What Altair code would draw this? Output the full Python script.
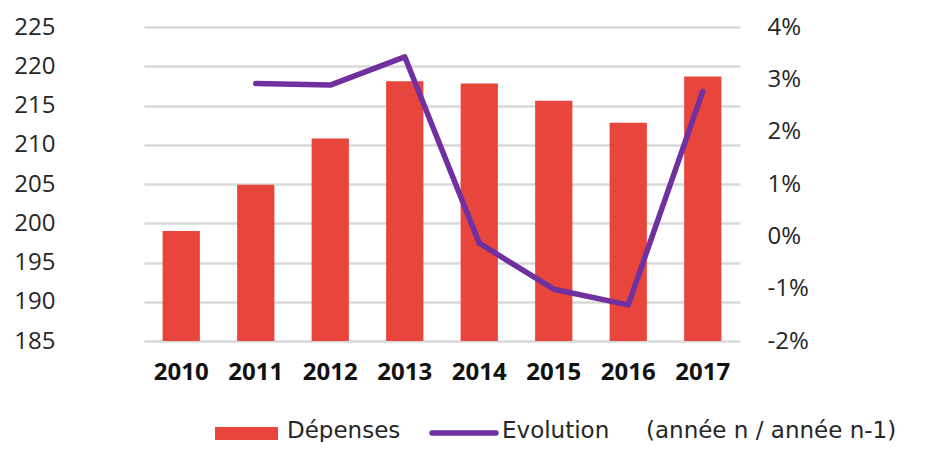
import altair as alt
import pandas as pd

years = ["2010", "2011", "2012", "2013", "2014", "2015", "2016", "2017"]
depenses = [199.0, 204.9, 210.8, 218.1, 217.8, 215.6, 212.8, 218.7]
evolution = [None, 2.92, 2.89, 3.43, -0.13, -1.01, -1.31, 2.77]
left_ticks = [185, 190, 195, 200, 205, 210, 215, 220, 225]
right_ticks = [-2, -1, 0, 1, 2, 3, 4]

df = pd.DataFrame({"annee": years, "depenses": depenses, "evolution": evolution})

FONT = "Open Sans"
LEG_FONT = "DejaVu Sans"
TXT = "#262626"
RED = "#e8453c"
PURPLE = "#7030a0"

xenc = alt.X("annee:N", sort=years, title=None,
             scale=alt.Scale(paddingInner=0.5, paddingOuter=0.25),
             axis=alt.Axis(labelAngle=0, labelFont=FONT, labelFontSize=24,
                           labelFontWeight="bold", labelColor="#111111",
                           labelPadding=19, domain=False, ticks=False, grid=False))

bars = alt.Chart(df).mark_bar(color=RED).encode(
    x=xenc,
    y=alt.Y("depenses:Q", title=None,
            scale=alt.Scale(domain=[185, 225], zero=False, nice=False),
            axis=alt.Axis(values=left_ticks, labelFont=FONT, labelFontSize=24,
                          labelColor=TXT, labelPadding=89, domain=False, ticks=False,
                          grid=True, gridColor="#d9d9d9", gridWidth=2.5)),
    y2=alt.datum(185),
)

line = alt.Chart(df).transform_filter("isValid(datum.evolution)").mark_line(
    color=PURPLE, strokeWidth=5.5, strokeCap="round", strokeJoin="round"
).encode(
    x=alt.X("annee:N", sort=years),
    y=alt.Y("evolution:Q", title=None,
            scale=alt.Scale(domain=[-2, 4], zero=False, nice=False),
            axis=alt.Axis(orient="right", values=right_ticks, labelExpr="datum.value + '%'",
                          labelFont=FONT, labelFontSize=24, labelColor=TXT,
                          labelPadding=27, domain=False, ticks=False, grid=False)),
)

one = alt.Data(values=[{"k": 1}])
leg_rect = alt.Chart(one).mark_rect(color=RED).encode(
    x=alt.value(71), x2=alt.value(134), y=alt.value(400), y2=alt.value(413))
leg_line = alt.Chart(one).mark_rule(color=PURPLE, strokeWidth=5.5, strokeCap="round").encode(
    x=alt.value(288), x2=alt.value(352), y=alt.value(406))
leg_t1 = alt.Chart(one).mark_text(align="left", baseline="middle", font=LEG_FONT,
                                   fontSize=23, color=TXT).encode(
    x=alt.value(143), y=alt.value(404), text=alt.value("Dépenses"))
leg_t2 = alt.Chart(one).mark_text(align="left", baseline="middle", font=LEG_FONT,
                                   fontSize=23, color=TXT).encode(
    x=alt.value(358), y=alt.value(404), text=alt.value("Evolution"))
leg_t3 = alt.Chart(one).mark_text(align="left", baseline="middle", font=LEG_FONT,
                                   fontSize=23, color=TXT).encode(
    x=alt.value(502), y=alt.value(404), text=alt.value("(année n / année n-1)"))

chart = alt.layer(bars, line, leg_rect, leg_line, leg_t1, leg_t2, leg_t3).resolve_scale(
    y="independent"
).properties(
    width=596, height=314,
    autosize=alt.AutoSizeParams(type="none"),
    padding={"left": 136, "top": 19, "right": 183, "bottom": 101},
    background="white",
).configure_view(stroke=None)

chart.save("out.html", embed_options={"renderer": "svg", "actions": False})
